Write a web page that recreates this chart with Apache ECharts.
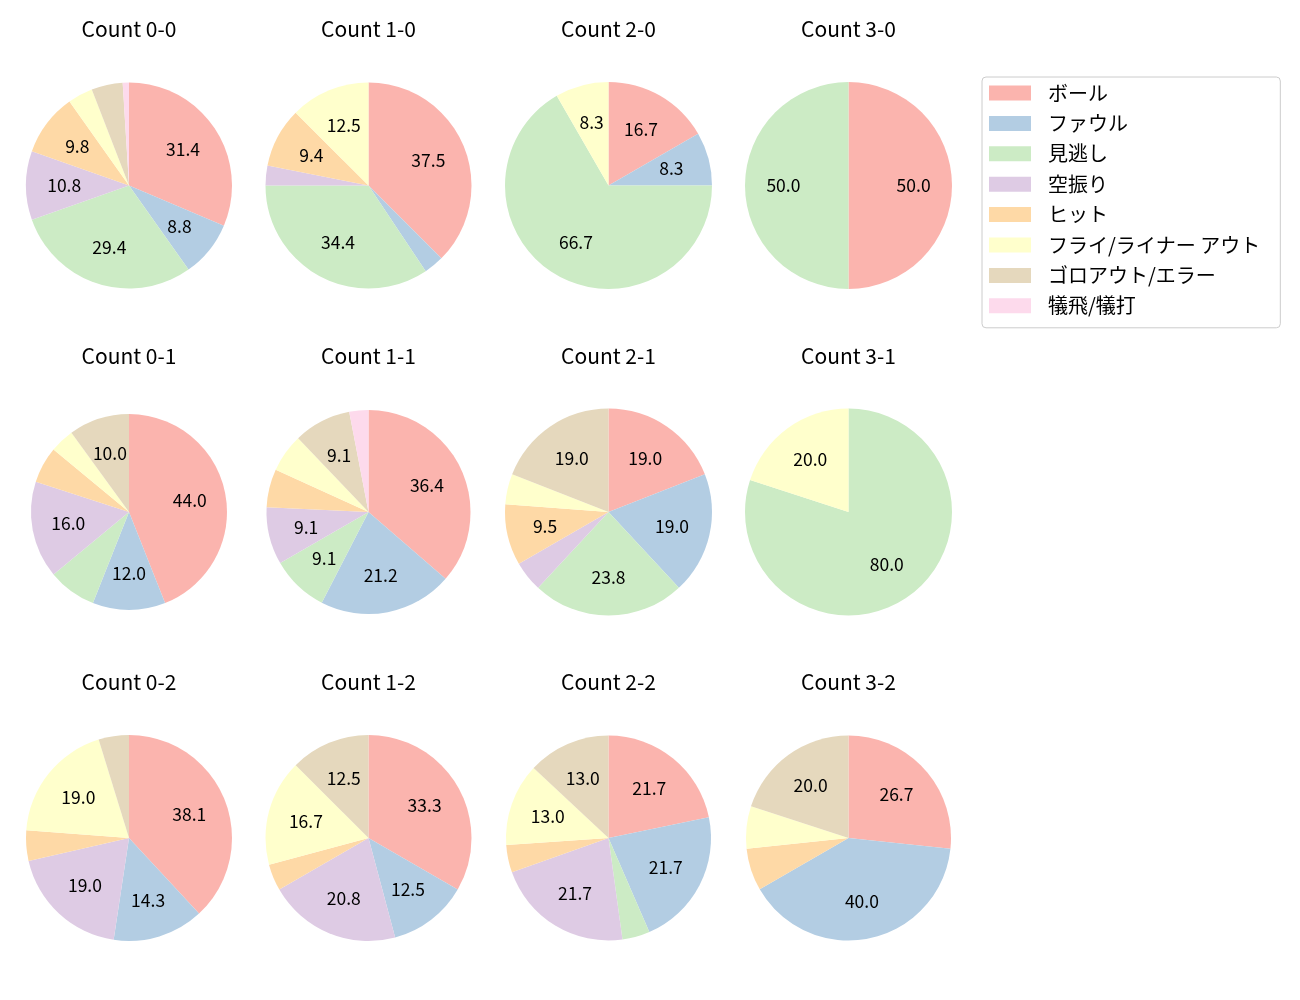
<!DOCTYPE html>
<html>
<head>
<meta charset="utf-8">
<script src="https://cdn.jsdelivr.net/npm/echarts@6/dist/echarts.min.js"></script>
<style>
html,body{margin:0;padding:0;background:#fff;}
#chart{width:1300px;height:1000px;}
</style>
</head>
<body>
<div id="chart"></div>
<script>
const categories = ['ボール','ファウル','見逃し','空振り','ヒット','フライ/ライナー アウト','ゴロアウト/エラー','犠飛/犠打'];
const colors = ['#fbb4ae','#b3cde3','#ccebc5','#decbe4','#fed9a6','#ffffcc','#e5d8bd','#fddaec'];
const pieTitles = ['Count 0-0','Count 1-0','Count 2-0','Count 3-0','Count 0-1','Count 1-1','Count 2-1','Count 3-1','Count 0-2','Count 1-2','Count 2-2','Count 3-2'];
const count00 = [32, 9, 30, 11, 10, 4, 5, 1];
const count10 = [12, 1, 11, 1, 3, 4, 0, 0];
const count20 = [2, 1, 8, 0, 0, 1, 0, 0];
const count30 = [1, 0, 1, 0, 0, 0, 0, 0];
const count01 = [22, 6, 4, 8, 3, 2, 5, 0];
const count11 = [12, 7, 3, 3, 2, 2, 3, 1];
const count21 = [4, 4, 5, 1, 2, 1, 4, 0];
const count31 = [0, 0, 4, 0, 0, 1, 0, 0];
const count02 = [8, 3, 0, 4, 1, 4, 1, 0];
const count12 = [8, 3, 0, 5, 1, 4, 3, 0];
const count22 = [5, 5, 1, 5, 1, 3, 3, 0];
const count32 = [4, 6, 0, 0, 1, 1, 3, 0];
const pieCounts = [count00,count10,count20,count30,count01,count11,count21,count31,count02,count12,count22,count32];

// layout
const colX = [129, 368.5, 608.5, 848.5];
const rowY = [185.5, 512, 838];
const radii = [103,103,103.5,103.5, 98,102,103.5,103.5, 103,103,102.5,102.5];
const titleY = [29, 356, 682];

const chart = echarts.init(document.getElementById('chart'));
const series = [];
const graphics = [];
pieCounts.forEach((vals, i) => {
  const cx = colX[i % 4], cy = rowY[Math.floor(i / 4)], r = radii[i];
  const total = vals.reduce((a, b) => a + b, 0);
  const data = categories.map((c, k) => ({name: c, value: vals[k], itemStyle: {color: colors[k]}}));
  series.push({
    type: 'pie', center: [cx, cy], radius: [0, r], startAngle: 90, clockwise: true,
    data: data, label: {show: false}, labelLine: {show: false}, silent: true,
    itemStyle: {borderWidth: 0}, emphasis: {disabled: true}, minAngle: 0, avoidLabelOverlap: false
  });
  series.push({
    type: 'pie', center: [cx, cy], radius: [r * 0.2, r], startAngle: 90, clockwise: true,
    data: categories.map((c, k) => ({name: c, value: vals[k], itemStyle: {color: 'rgba(0,0,0,0)'}})),
    silent: true, emphasis: {disabled: true}, avoidLabelOverlap: false,
    label: {
      show: true, position: 'inside', color: '#000', fontSize: 17.5,
      fontFamily: 'Noto Sans CJK JP',
      formatter: p => { const pct = p.value / total * 100; return pct > 8 ? pct.toFixed(1) : ''; }
    },
    labelLine: {show: false}
  });
  graphics.push({
    type: 'text', x: cx, y: titleY[Math.floor(i / 4)],
    style: {text: pieTitles[i], fill: '#000', font: '21px "Noto Sans CJK JP"', textAlign: 'center', textVerticalAlign: 'middle'}
  });
});

chart.setOption({
  animation: false,
  color: colors,
  graphic: graphics,
  legend: {
    orient: 'vertical', left: 982, top: 77,
    data: categories.map((c, k) => ({name: c, icon: 'rect', itemStyle: {color: colors[k]}})),
    itemWidth: 42, itemHeight: 15, itemGap: 10.4,
    padding: [6, 20, 12, 7],
    borderColor: '#cccccc', borderWidth: 1, borderRadius: 4,
    selectedMode: false,
    textStyle: {fontSize: 20, color: '#000', fontFamily: 'Noto Sans CJK JP', padding: [0, 0, 0, 12], lineHeight: 20}
  },
  series: series
});
</script>
</body>
</html>
